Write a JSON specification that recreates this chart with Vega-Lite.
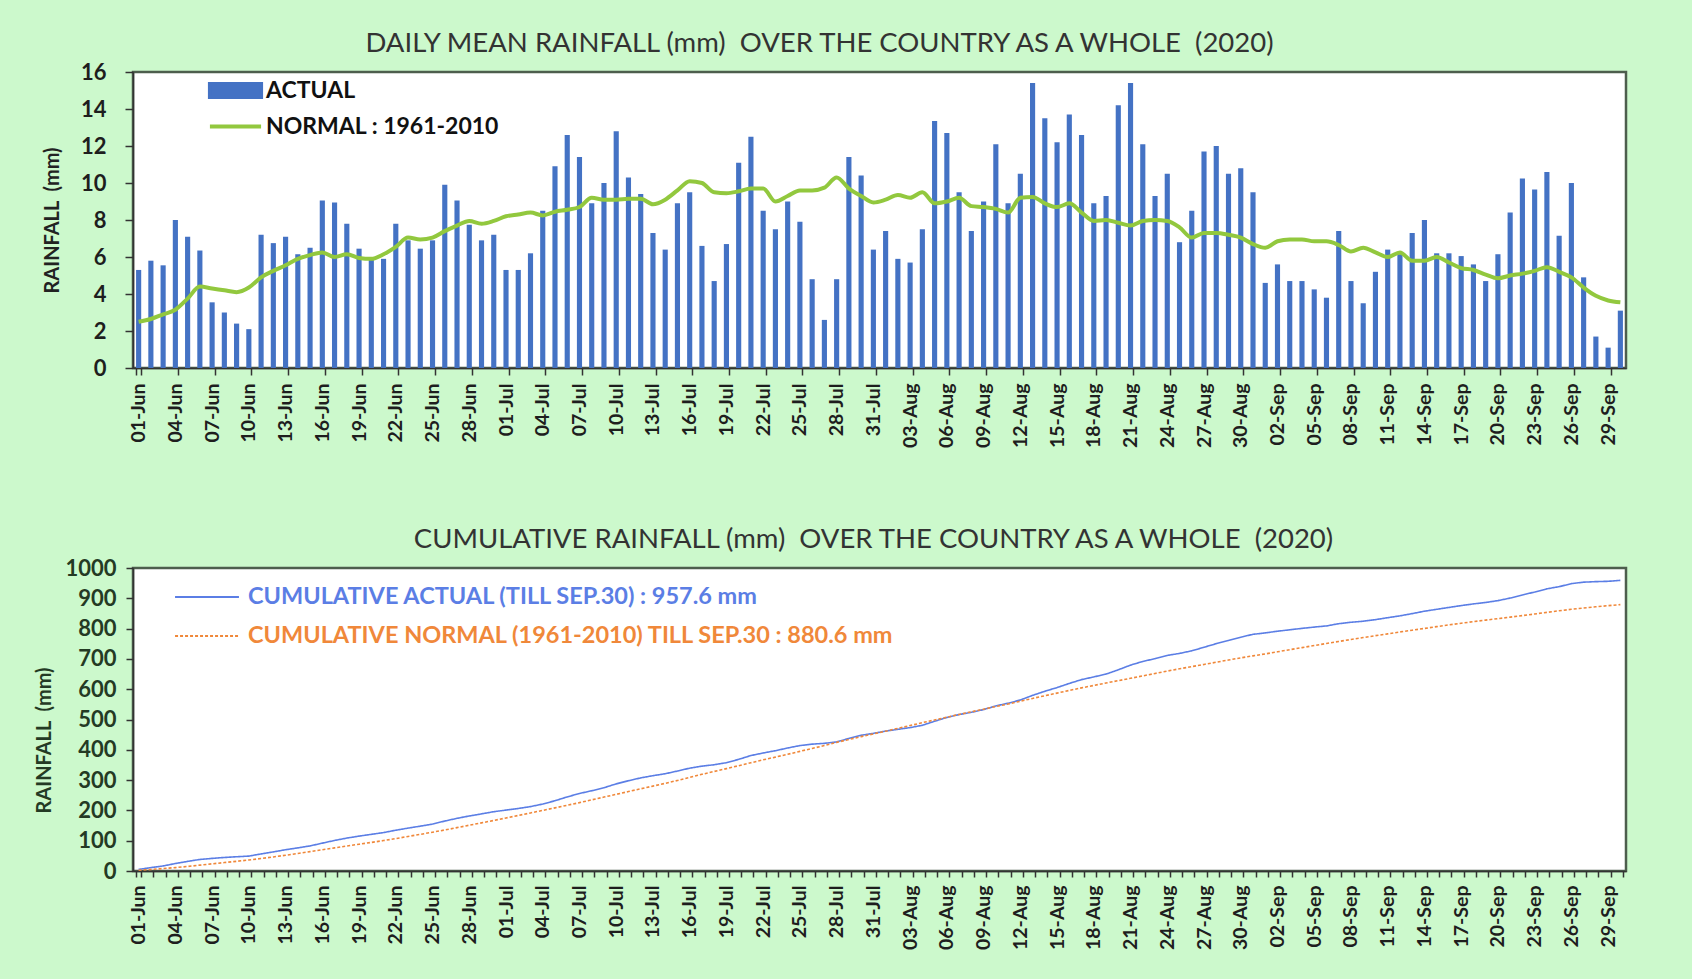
{
"$schema":"https://vega.github.io/schema/vega-lite/v6.json",
"background":"#ccf9cc",
"padding":{"left":33,"top":28,"right":67,"bottom":30},
"spacing":75,
"datasets":{"days":[
{"day":"01-Jun","actual":5.3,"normal":2.5,"cumActual":5.3,"cumNormal":2.5},
{"day":"02-Jun","actual":5.8,"normal":2.65,"cumActual":11.1,"cumNormal":5.15},
{"day":"03-Jun","actual":5.55,"normal":2.9,"cumActual":16.65,"cumNormal":8.05},
{"day":"04-Jun","actual":8.0,"normal":3.15,"cumActual":24.65,"cumNormal":11.2},
{"day":"05-Jun","actual":7.1,"normal":3.75,"cumActual":31.75,"cumNormal":14.95},
{"day":"06-Jun","actual":6.35,"normal":4.4,"cumActual":38.1,"cumNormal":19.35},
{"day":"07-Jun","actual":3.55,"normal":4.3,"cumActual":41.65,"cumNormal":23.65},
{"day":"08-Jun","actual":3.0,"normal":4.2,"cumActual":44.65,"cumNormal":27.85},
{"day":"09-Jun","actual":2.4,"normal":4.1,"cumActual":47.05,"cumNormal":31.95},
{"day":"10-Jun","actual":2.1,"normal":4.35,"cumActual":49.15,"cumNormal":36.3},
{"day":"11-Jun","actual":7.2,"normal":4.9,"cumActual":56.35,"cumNormal":41.2},
{"day":"12-Jun","actual":6.75,"normal":5.25,"cumActual":63.1,"cumNormal":46.45},
{"day":"13-Jun","actual":7.1,"normal":5.55,"cumActual":70.2,"cumNormal":52.0},
{"day":"14-Jun","actual":6.15,"normal":5.9,"cumActual":76.35,"cumNormal":57.9},
{"day":"15-Jun","actual":6.5,"normal":6.1,"cumActual":82.85,"cumNormal":64.0},
{"day":"16-Jun","actual":9.05,"normal":6.25,"cumActual":91.9,"cumNormal":70.25},
{"day":"17-Jun","actual":8.95,"normal":6.0,"cumActual":100.85,"cumNormal":76.25},
{"day":"18-Jun","actual":7.8,"normal":6.15,"cumActual":108.65,"cumNormal":82.4},
{"day":"19-Jun","actual":6.45,"normal":5.95,"cumActual":115.1,"cumNormal":88.35},
{"day":"20-Jun","actual":5.85,"normal":5.9,"cumActual":120.95,"cumNormal":94.25},
{"day":"21-Jun","actual":5.9,"normal":6.15,"cumActual":126.85,"cumNormal":100.4},
{"day":"22-Jun","actual":7.8,"normal":6.55,"cumActual":134.65,"cumNormal":106.95},
{"day":"23-Jun","actual":6.9,"normal":7.05,"cumActual":141.55,"cumNormal":114.0},
{"day":"24-Jun","actual":6.45,"normal":6.95,"cumActual":148.0,"cumNormal":120.95},
{"day":"25-Jun","actual":6.9,"normal":7.05,"cumActual":154.9,"cumNormal":128.0},
{"day":"26-Jun","actual":9.9,"normal":7.4,"cumActual":164.8,"cumNormal":135.4},
{"day":"27-Jun","actual":9.05,"normal":7.7,"cumActual":173.85,"cumNormal":143.1},
{"day":"28-Jun","actual":7.75,"normal":7.95,"cumActual":181.6,"cumNormal":151.05},
{"day":"29-Jun","actual":6.9,"normal":7.8,"cumActual":188.5,"cumNormal":158.85},
{"day":"30-Jun","actual":7.2,"normal":7.95,"cumActual":195.7,"cumNormal":166.8},
{"day":"01-Jul","actual":5.3,"normal":8.2,"cumActual":201.0,"cumNormal":175.0},
{"day":"02-Jul","actual":5.3,"normal":8.3,"cumActual":206.3,"cumNormal":183.3},
{"day":"03-Jul","actual":6.2,"normal":8.4,"cumActual":212.5,"cumNormal":191.7},
{"day":"04-Jul","actual":8.5,"normal":8.25,"cumActual":221.0,"cumNormal":199.95},
{"day":"05-Jul","actual":10.9,"normal":8.45,"cumActual":231.9,"cumNormal":208.4},
{"day":"06-Jul","actual":12.6,"normal":8.55,"cumActual":244.5,"cumNormal":216.95},
{"day":"07-Jul","actual":11.4,"normal":8.7,"cumActual":255.9,"cumNormal":225.65},
{"day":"08-Jul","actual":8.9,"normal":9.2,"cumActual":264.8,"cumNormal":234.85},
{"day":"09-Jul","actual":10.0,"normal":9.1,"cumActual":274.8,"cumNormal":243.95},
{"day":"10-Jul","actual":12.8,"normal":9.1,"cumActual":287.6,"cumNormal":253.05},
{"day":"11-Jul","actual":10.3,"normal":9.15,"cumActual":297.9,"cumNormal":262.2},
{"day":"12-Jul","actual":9.4,"normal":9.15,"cumActual":307.3,"cumNormal":271.35},
{"day":"13-Jul","actual":7.3,"normal":8.85,"cumActual":314.6,"cumNormal":280.2},
{"day":"14-Jul","actual":6.4,"normal":9.1,"cumActual":321.0,"cumNormal":289.3},
{"day":"15-Jul","actual":8.9,"normal":9.6,"cumActual":329.9,"cumNormal":298.9},
{"day":"16-Jul","actual":9.5,"normal":10.1,"cumActual":339.4,"cumNormal":309.0},
{"day":"17-Jul","actual":6.6,"normal":10.0,"cumActual":346.0,"cumNormal":319.0},
{"day":"18-Jul","actual":4.7,"normal":9.5,"cumActual":350.7,"cumNormal":328.5},
{"day":"19-Jul","actual":6.7,"normal":9.45,"cumActual":357.4,"cumNormal":337.95},
{"day":"20-Jul","actual":11.1,"normal":9.55,"cumActual":368.5,"cumNormal":347.5},
{"day":"21-Jul","actual":12.5,"normal":9.7,"cumActual":381.0,"cumNormal":357.2},
{"day":"22-Jul","actual":8.5,"normal":9.7,"cumActual":389.5,"cumNormal":366.9},
{"day":"23-Jul","actual":7.5,"normal":9.0,"cumActual":397.0,"cumNormal":375.9},
{"day":"24-Jul","actual":9.0,"normal":9.3,"cumActual":406.0,"cumNormal":385.2},
{"day":"25-Jul","actual":7.9,"normal":9.6,"cumActual":413.9,"cumNormal":394.8},
{"day":"26-Jul","actual":4.8,"normal":9.6,"cumActual":418.7,"cumNormal":404.4},
{"day":"27-Jul","actual":2.6,"normal":9.75,"cumActual":421.3,"cumNormal":414.15},
{"day":"28-Jul","actual":4.8,"normal":10.3,"cumActual":426.1,"cumNormal":424.45},
{"day":"29-Jul","actual":11.4,"normal":9.7,"cumActual":437.5,"cumNormal":434.15},
{"day":"30-Jul","actual":10.4,"normal":9.3,"cumActual":447.9,"cumNormal":443.45},
{"day":"31-Jul","actual":6.4,"normal":8.95,"cumActual":454.3,"cumNormal":452.4},
{"day":"01-Aug","actual":7.4,"normal":9.1,"cumActual":461.7,"cumNormal":461.5},
{"day":"02-Aug","actual":5.9,"normal":9.35,"cumActual":467.6,"cumNormal":470.85},
{"day":"03-Aug","actual":5.7,"normal":9.2,"cumActual":473.3,"cumNormal":480.05},
{"day":"04-Aug","actual":7.5,"normal":9.5,"cumActual":480.8,"cumNormal":489.55},
{"day":"05-Aug","actual":13.35,"normal":8.9,"cumActual":494.15,"cumNormal":498.45},
{"day":"06-Aug","actual":12.7,"normal":9.0,"cumActual":506.85,"cumNormal":507.45},
{"day":"07-Aug","actual":9.5,"normal":9.2,"cumActual":516.35,"cumNormal":516.65},
{"day":"08-Aug","actual":7.4,"normal":8.75,"cumActual":523.75,"cumNormal":525.4},
{"day":"09-Aug","actual":9.0,"normal":8.7,"cumActual":532.75,"cumNormal":534.1},
{"day":"10-Aug","actual":12.1,"normal":8.6,"cumActual":544.85,"cumNormal":542.7},
{"day":"11-Aug","actual":8.9,"normal":8.4,"cumActual":553.75,"cumNormal":551.1},
{"day":"12-Aug","actual":10.5,"normal":9.2,"cumActual":564.25,"cumNormal":560.3},
{"day":"13-Aug","actual":15.4,"normal":9.25,"cumActual":579.65,"cumNormal":569.55},
{"day":"14-Aug","actual":13.5,"normal":8.9,"cumActual":593.15,"cumNormal":578.45},
{"day":"15-Aug","actual":12.2,"normal":8.7,"cumActual":605.35,"cumNormal":587.15},
{"day":"16-Aug","actual":13.7,"normal":8.9,"cumActual":619.05,"cumNormal":596.05},
{"day":"17-Aug","actual":12.6,"normal":8.4,"cumActual":631.65,"cumNormal":604.45},
{"day":"18-Aug","actual":8.9,"normal":7.95,"cumActual":640.55,"cumNormal":612.4},
{"day":"19-Aug","actual":9.3,"normal":8.0,"cumActual":649.85,"cumNormal":620.4},
{"day":"20-Aug","actual":14.2,"normal":7.85,"cumActual":664.05,"cumNormal":628.25},
{"day":"21-Aug","actual":15.4,"normal":7.7,"cumActual":679.45,"cumNormal":635.95},
{"day":"22-Aug","actual":12.1,"normal":7.95,"cumActual":691.55,"cumNormal":643.9},
{"day":"23-Aug","actual":9.3,"normal":8.0,"cumActual":700.85,"cumNormal":651.9},
{"day":"24-Aug","actual":10.5,"normal":7.95,"cumActual":711.35,"cumNormal":659.85},
{"day":"25-Aug","actual":6.8,"normal":7.6,"cumActual":718.15,"cumNormal":667.45},
{"day":"26-Aug","actual":8.5,"normal":7.05,"cumActual":726.65,"cumNormal":674.5},
{"day":"27-Aug","actual":11.7,"normal":7.3,"cumActual":738.35,"cumNormal":681.8},
{"day":"28-Aug","actual":12.0,"normal":7.3,"cumActual":750.35,"cumNormal":689.1},
{"day":"29-Aug","actual":10.5,"normal":7.2,"cumActual":760.85,"cumNormal":696.3},
{"day":"30-Aug","actual":10.8,"normal":7.05,"cumActual":771.65,"cumNormal":703.35},
{"day":"31-Aug","actual":9.5,"normal":6.7,"cumActual":781.15,"cumNormal":710.05},
{"day":"01-Sep","actual":4.6,"normal":6.5,"cumActual":785.75,"cumNormal":716.55},
{"day":"02-Sep","actual":5.6,"normal":6.85,"cumActual":791.35,"cumNormal":723.4},
{"day":"03-Sep","actual":4.7,"normal":6.95,"cumActual":796.05,"cumNormal":730.35},
{"day":"04-Sep","actual":4.7,"normal":6.95,"cumActual":800.75,"cumNormal":737.3},
{"day":"05-Sep","actual":4.25,"normal":6.85,"cumActual":805.0,"cumNormal":744.15},
{"day":"06-Sep","actual":3.8,"normal":6.85,"cumActual":808.8,"cumNormal":751.0},
{"day":"07-Sep","actual":7.4,"normal":6.65,"cumActual":816.2,"cumNormal":757.65},
{"day":"08-Sep","actual":4.7,"normal":6.3,"cumActual":820.9,"cumNormal":763.95},
{"day":"09-Sep","actual":3.5,"normal":6.5,"cumActual":824.4,"cumNormal":770.45},
{"day":"10-Sep","actual":5.2,"normal":6.25,"cumActual":829.6,"cumNormal":776.7},
{"day":"11-Sep","actual":6.4,"normal":6.0,"cumActual":836.0,"cumNormal":782.7},
{"day":"12-Sep","actual":6.15,"normal":6.25,"cumActual":842.15,"cumNormal":788.95},
{"day":"13-Sep","actual":7.3,"normal":5.8,"cumActual":849.45,"cumNormal":794.75},
{"day":"14-Sep","actual":8.0,"normal":5.8,"cumActual":857.45,"cumNormal":800.55},
{"day":"15-Sep","actual":6.2,"normal":6.0,"cumActual":863.65,"cumNormal":806.55},
{"day":"16-Sep","actual":6.2,"normal":5.7,"cumActual":869.85,"cumNormal":812.25},
{"day":"17-Sep","actual":6.05,"normal":5.4,"cumActual":875.9,"cumNormal":817.65},
{"day":"18-Sep","actual":5.6,"normal":5.3,"cumActual":881.5,"cumNormal":822.95},
{"day":"19-Sep","actual":4.7,"normal":5.05,"cumActual":886.2,"cumNormal":828.0},
{"day":"20-Sep","actual":6.15,"normal":4.85,"cumActual":892.35,"cumNormal":832.85},
{"day":"21-Sep","actual":8.4,"normal":5.0,"cumActual":900.75,"cumNormal":837.85},
{"day":"22-Sep","actual":10.25,"normal":5.1,"cumActual":911.0,"cumNormal":842.95},
{"day":"23-Sep","actual":9.65,"normal":5.25,"cumActual":920.65,"cumNormal":848.2},
{"day":"24-Sep","actual":10.6,"normal":5.45,"cumActual":931.25,"cumNormal":853.65},
{"day":"25-Sep","actual":7.15,"normal":5.2,"cumActual":938.4,"cumNormal":858.85},
{"day":"26-Sep","actual":10.0,"normal":4.9,"cumActual":948.4,"cumNormal":863.75},
{"day":"27-Sep","actual":4.9,"normal":4.35,"cumActual":953.3,"cumNormal":868.1},
{"day":"28-Sep","actual":1.7,"normal":3.9,"cumActual":955.0,"cumNormal":872.0},
{"day":"29-Sep","actual":1.1,"normal":3.65,"cumActual":956.1,"cumNormal":875.65},
{"day":"30-Sep","actual":3.1,"normal":3.55,"cumActual":959.2,"cumNormal":879.2}
]},
"resolve":{"scale":{"color":"independent","stroke":"independent","strokeDash":"independent"},"legend":{"color":"independent","stroke":"independent","strokeDash":"independent"}},
"vconcat":[
{
"width":1493,"height":296,
"data":{"name":"days"},
"title":{"text":"DAILY MEAN RAINFALL (mm) \u00a0OVER THE COUNTRY AS A WHOLE \u00a0(2020)","dx":-60,"offset":4},
"encoding":{"x":{"field":"day","type":"ordinal","sort":null,"scale":{"paddingInner":0.58,"paddingOuter":0.25},
"axis":{"title":null,"labelAngle":-90,"labelFontSize":19.5,"labelPadding":8,"tickSize":7,"tickBand":"extent",
"values":["01-Jun","04-Jun","07-Jun","10-Jun","13-Jun","16-Jun","19-Jun","22-Jun","25-Jun","28-Jun","01-Jul","04-Jul","07-Jul","10-Jul","13-Jul","16-Jul","19-Jul","22-Jul","25-Jul","28-Jul","31-Jul","03-Aug","06-Aug","09-Aug","12-Aug","15-Aug","18-Aug","21-Aug","24-Aug","27-Aug","30-Aug","02-Sep","05-Sep","08-Sep","11-Sep","14-Sep","17-Sep","20-Sep","23-Sep","26-Sep","29-Sep"]}}},
"layer":[
{"mark":{"type":"bar"},
"encoding":{
"y":{"field":"actual","type":"quantitative","scale":{"domain":[0,16],"nice":false},
"axis":{"values":[0,2,4,6,8,10,12,14,16],"labelOverlap":false,"title":"RAINFALL\u00a0\u00a0(mm)","labelFontSize":22,"tickSize":8,"labelPadding":19,"titlePadding":18,"titleFontSize":20,"titleFontWeight":"bold"}},
"color":{"datum":"ACTUAL","type":"nominal","scale":{"domain":["ACTUAL","NORMAL : 1961-2010"],"range":["#4472c4","#92c83e"]},
"legend":{"orient":"none","legendX":84,"legendY":0,"title":null,"symbolSize":1089,"labelFontSize":23,"labelFontWeight":"bold","labelColor":"#111","labelOffset":12,"labelLimit":0,"rowPadding":2,"padding":0,
"encode":{"symbols":{"update":{
"shape":{"signal":"datum.value === 'ACTUAL' ? 'M-1.55,-0.4H1.55V0.4H-1.55Z' : 'M-1.55,0H1.55'"},
"fill":{"signal":"datum.value === 'ACTUAL' ? '#4472c4' : 'transparent'"},
"stroke":{"signal":"datum.value === 'ACTUAL' ? 'transparent' : '#92c83e'"},
"strokeWidth":{"value":4},"opacity":{"value":1}}}}}}}},
{"mark":{"type":"line","interpolate":"monotone","strokeWidth":4},
"encoding":{"y":{"field":"normal","type":"quantitative","scale":{"domain":[0,16],"nice":false},
"axis":{"values":[0,2,4,6,8,10,12,14,16],"labelOverlap":false,"title":"RAINFALL\u00a0\u00a0(mm)","labelFontSize":22,"tickSize":8,"labelPadding":19,"titlePadding":18,"titleFontSize":20,"titleFontWeight":"bold"}},
"color":{"datum":"NORMAL : 1961-2010","type":"nominal"}}}
]
},
{
"width":1493,"height":303,
"data":{"name":"days"},
"title":{"text":"CUMULATIVE RAINFALL (mm) \u00a0OVER THE COUNTRY AS A WHOLE \u00a0(2020)","dx":-6,"offset":4},
"transform":[{"fold":["cumActual","cumNormal"],"as":["series","value"]}],
"mark":{"type":"line","strokeWidth":1.6},
"encoding":{
"x":{"field":"day","type":"ordinal","sort":null,"scale":{"paddingInner":0.58,"paddingOuter":0.25},
"axis":{"title":null,"labelAngle":-90,"labelFontSize":19.5,"labelPadding":8,"tickSize":6,"tickBand":"extent",
"labelExpr":"indexof(['01-Jun','04-Jun','07-Jun','10-Jun','13-Jun','16-Jun','19-Jun','22-Jun','25-Jun','28-Jun','01-Jul','04-Jul','07-Jul','10-Jul','13-Jul','16-Jul','19-Jul','22-Jul','25-Jul','28-Jul','31-Jul','03-Aug','06-Aug','09-Aug','12-Aug','15-Aug','18-Aug','21-Aug','24-Aug','27-Aug','30-Aug','02-Sep','05-Sep','08-Sep','11-Sep','14-Sep','17-Sep','20-Sep','23-Sep','26-Sep','29-Sep'], datum.value) >= 0 ? datum.value : ''"}},
"y":{"field":"value","type":"quantitative","scale":{"domain":[0,1000],"nice":false},
"axis":{"values":[0,100,200,300,400,500,600,700,800,900,1000],"format":"d","labelOverlap":false,"title":"RAINFALL\u00a0\u00a0(mm)","titleY":172,"labelFontSize":22,"labelColor":"#243a24","titleColor":"#243a24","tickSize":7,"labelPadding":10,"titlePadding":10,"titleFontSize":20,"titleFontWeight":"bold"}},
"stroke":{"field":"series","type":"nominal","scale":{"domain":["cumActual","cumNormal"],"range":["#5b7ee5","#f0883a"]},
"legend":{"orient":"none","legendX":56,"legendY":11,"title":null,"symbolSize":1156,"symbolStrokeWidth":2,"symbolType":"M-1.88,0H1.88","labelFontSize":23.5,"labelFontWeight":"bold","labelOffset":23,"labelLimit":0,"rowPadding":9,"padding":0,
"labelExpr":"datum.value === 'cumActual' ? 'CUMULATIVE ACTUAL (TILL SEP.30) : 957.6 mm' : 'CUMULATIVE NORMAL (1961-2010) TILL SEP.30 : 880.6 mm'",
"encode":{"labels":{"update":{"fill":{"signal":"datum.value === 'cumActual' ? '#5b7ee5' : '#f0883a'"}}}}}},
"strokeDash":{"field":"series","type":"nominal","scale":{"domain":["cumActual","cumNormal"],"range":[[1,0],[3,2]]},"legend":null}
}
}
],
"config":{
"font":"Lato",
"view":{"stroke":"#4d5e4d","strokeWidth":2.5,"fill":"white"},
"title":{"font":"Lato","fontSize":27.5,"fontWeight":"normal","color":"#333"},
"axis":{"grid":false,"domainColor":"#333","domainWidth":1.5,"tickColor":"#333","tickWidth":1.5,"labelFont":"Lato","labelFontWeight":"bold","labelColor":"#1e1e1e","titleFont":"Lato","titleFontWeight":"normal","titleColor":"#222"},
"legend":{"labelFont":"Lato"}
}
}
